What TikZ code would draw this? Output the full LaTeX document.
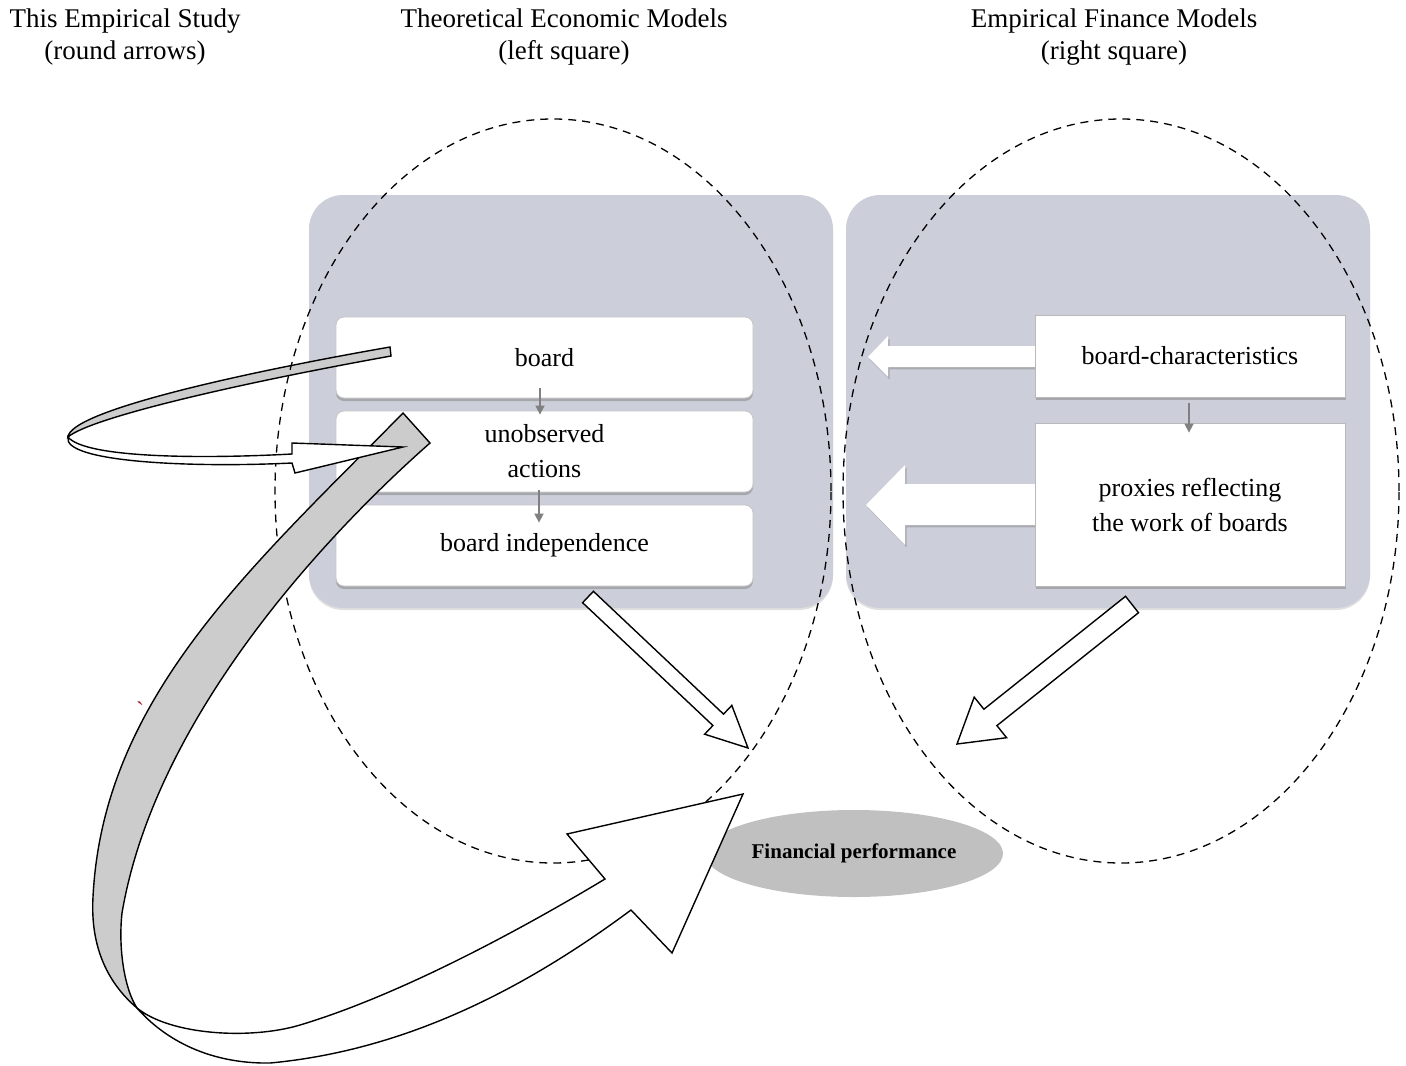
\documentclass[tikz,border=0pt]{standalone}
\usepackage{fontspec}
\setmainfont{Liberation Serif}
\usetikzlibrary{shapes.geometric,arrows.meta,shadows,calc}
\definecolor{panelgray}{RGB}{204,207,217}
\definecolor{ribbongray}{RGB}{204,204,204}
\definecolor{fpgray}{RGB}{192,192,192}
\definecolor{tickred}{RGB}{160,40,45}
\begin{document}
\begin{tikzpicture}[x=0.5pt,y=-0.5pt,
  title/.style={align=center,font=\fontsize{13.5}{16}\selectfont,inner sep=0pt},
  panel/.style={fill=panelgray,rounded corners=17pt,minimum width=262pt,minimum height=206.5pt,
    drop shadow={shadow xshift=0pt,shadow yshift=-1pt,opacity=0.25,fill=gray}},
  boxtext/.style={align=center,font=\fontsize{13}{17.5}\selectfont},
  lbox/.style={boxtext,fill=white,draw=gray!45,line width=0.4pt,rounded corners=4pt,
    minimum width=208.5pt,minimum height=40.5pt,
    drop shadow={shadow xshift=0pt,shadow yshift=-1.5pt,opacity=0.5,fill=gray}},
  rbox/.style={boxtext,fill=white,draw=gray!55,line width=0.4pt,minimum width=155pt,
    drop shadow={shadow xshift=0.5pt,shadow yshift=-1.5pt,opacity=0.5,fill=gray}},
  garrow/.style={draw=gray,line width=0.8pt,-{Triangle[length=4.5pt,width=4.5pt]}},
  warrow/.style={fill=white,draw=none,
    drop shadow={shadow xshift=0.8pt,shadow yshift=-1.2pt,opacity=0.45,fill=gray}},
  ribbon/.style={draw=black,line width=0.7pt,line join=miter},
  barrow/.style={draw=black,fill=white,line width=0.7pt,line join=miter},
  dashell/.style={draw=black,line width=0.65pt,dash pattern=on 4pt off 3pt},
  fp/.style={ellipse,fill=fpgray,minimum width=149pt,minimum height=43.5pt,inner sep=0pt,
    font=\fontsize{10.5}{12}\selectfont\bfseries}
]
\useasboundingbox (0,0) rectangle (1406,1065);

% panels
\node[panel] (lp) at (571,401.5) {};
\node[panel] (rp) at (1108,401.5) {};

% white block arrows in right panel
\path[warrow] (1036,346) -- (888,346) -- (888,336) -- (868,357) -- (888,377) -- (888,367) -- (1036,367) -- cycle;
\path[warrow] (1036,484) -- (905,484) -- (905,465) -- (866,505) -- (905,545) -- (905,525) -- (1036,525) -- cycle;

% left boxes
\node[lbox] (b1) at (544.5,357.5) {board};
\node[lbox] (b2) at (544.5,451.5) {unobserved\\actions};
\node[lbox] (b3) at (544.5,545.5) {board independence};

% right boxes
\node[rbox,minimum height=41pt] (r1) at (1190,356) {board-characteristics};
\node[rbox,minimum height=81.5pt] (r2) at (1190,504.5) {proxies reflecting\\the work of boards};

% small gray arrows
\draw[garrow] ($(b1.south)+(-4.5,-10)$) -- ($(b2.north)+(-4.5,4)$);
\draw[garrow] ($(b2.south)+(-5.5,-2)$) -- ($(b3.north)+(-5.5,18)$);
\draw[garrow] ($(r1.south)+(-1,6)$) -- ($(r2.north)+(-1,10)$);

% financial performance
\node[fp] (fpn) at (854,853.5) {Financial performance};

% small curved arrow: gray upper part
\filldraw[ribbon,fill=ribbongray] (390,347) .. controls (230,375) and (70,412) .. (68,437)
  .. controls (90,418) and (235,384) .. (391,356) -- cycle;

% dashed ellipses
\draw[dashell] (553,491) ellipse [x radius=139pt,y radius=186pt];
\draw[dashell] (1121,491) ellipse [x radius=139pt,y radius=186pt];

% straight block arrows
\filldraw[barrow] (593.4,591.3) -- (723.5,714.1) -- (731.8,705.4) -- (748,748) -- (704.6,734.2) -- (712.9,725.5) -- (582.6,602.7) -- cycle;
\filldraw[barrow] (1138.5,612.7) -- (996.9,725.6) -- (1006.6,737.7) -- (957,744) -- (974.2,697.1) -- (983.9,709.2) -- (1125.5,596.3) -- cycle;

% big curved arrow: gray part
\filldraw[ribbon,fill=ribbongray] (403,413) .. controls (253,566) and (103,697) .. (93,897)
  .. controls (90,950) and (110,985) .. (137,1008)
  .. controls (125,990) and (118,950) .. (122,913)
  .. controls (156,713) and (332.5,528.8) .. (430,443) -- cycle;
% big curved arrow: white part with head
\filldraw[ribbon,fill=white] (137,1008) .. controls (170,1035) and (250,1040) .. (300,1025)
  .. controls (400,995) and (520,930) .. (605,879)
  -- (567,834) -- (743,794) -- (672,953) -- (631,910)
  .. controls (530,985) and (410,1050) .. (270,1063)
  .. controls (210,1064) and (165,1040) .. (137,1008) -- cycle;

% small curved arrow: white lower part with head
\filldraw[ribbon,fill=white] (68,437) .. controls (85,458) and (200,459) .. (292,454)
  -- (292,443) -- (403,447) -- (295,473) -- (292,463)
  .. controls (190,468) and (62,462) .. (68,437) -- cycle;

% titles
\node[title] (t1) at (125,37) {This Empirical Study\\(round arrows)};
\node[title] (t2) at (564,37) {Theoretical Economic Models\\(left square)};
\node[title] (t3) at (1114,37) {Empirical Finance Models\\(right square)};

% stray mark
\node[text=tickred,font=\fontsize{12}{12}\selectfont,inner sep=0pt] (tick) at (140,710) {\textasciigrave};
\end{tikzpicture}
\end{document}
